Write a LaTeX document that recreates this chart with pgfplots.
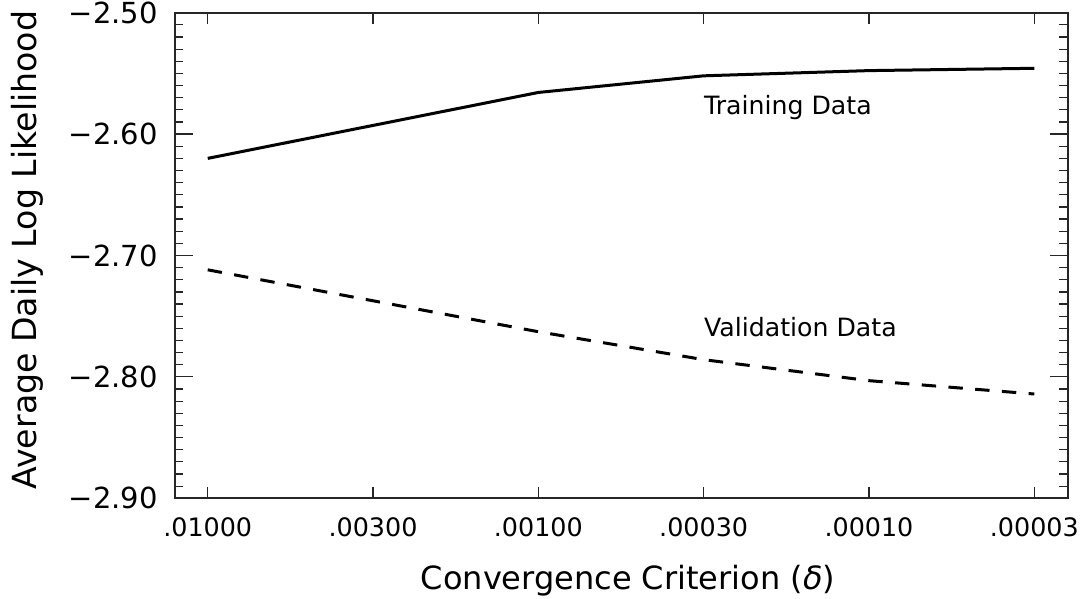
\documentclass[border=0pt]{standalone}
\usepackage{pgfplots}
\pgfplotsset{compat=1.18}
\usepackage{fontspec}
\setmainfont{DejaVu Sans}
\begin{document}
\begin{tikzpicture}
\useasboundingbox (-87.5pt,-50.35pt) rectangle (454pt,249.15pt);
\begin{axis}[
  at={(0,0)}, anchor=south west,
  scale only axis,
  width=446.35pt, height=242.8pt,
  xmin=-0.198, xmax=5.202,
  ymin=-2.90, ymax=-2.50,
  xtick={0,1,2,3,4,5},
  xticklabels={.01000,.00300,.00100,.00030,.00010,.00003},
  ytick={-2.90,-2.80,-2.70,-2.60,-2.50},
  yticklabels={−2.90,−2.80,−2.70,−2.60,−2.50},
  minor y tick num=9,
  tick align=inside,
  major tick length=8.85pt,
  minor tick length=4.15pt,
  xtick style={/pgfplots/major tick length=5.5pt},
  every tick/.style={line width=0.6pt, black!85},
  axis line style={line width=0.9pt, black!85},
  xticklabel style={anchor=base, yshift=-19.2pt, inner sep=0pt, font=\fontsize{12.7}{14}\selectfont},
  yticklabel style={anchor=east, xshift=-8.5pt, inner sep=0pt, font=\fontsize{14.5}{16}\selectfont},
  xlabel={Convergence Criterion ({\itshape δ})},
  ylabel={Average Daily Log Likelihood},
  xlabel style={at={(axis description cs:0.5075,-0.1888)}, anchor=base, inner sep=0pt, font=\fontsize{16}{18}\selectfont},
  ylabel style={at={(axis description cs:-0.1658,0.511)}, anchor=center, rotate=0, inner sep=0pt, font=\fontsize{16.6}{18}\selectfont},
]
\addplot[black, line width=1.5pt] coordinates {
  (0,-2.620) (2,-2.5657) (3,-2.552) (4,-2.5477) (5,-2.5458)
};
\addplot[black, line width=1.5pt, dash pattern=on 7.2pt off 6.2pt] coordinates {
  (0,-2.7118) (2,-2.7628) (3,-2.7858) (4,-2.8031) (5,-2.8141)
};
\node[anchor=base west, inner sep=0pt, font=\fontsize{12.6}{14}\selectfont] at (axis cs:3,-2.5842) {Training Data};
\node[anchor=base west, inner sep=0pt, font=\fontsize{12.6}{14}\selectfont] at (axis cs:3,-2.7667) {Validation Data};
\end{axis}
\end{tikzpicture}
\end{document}
